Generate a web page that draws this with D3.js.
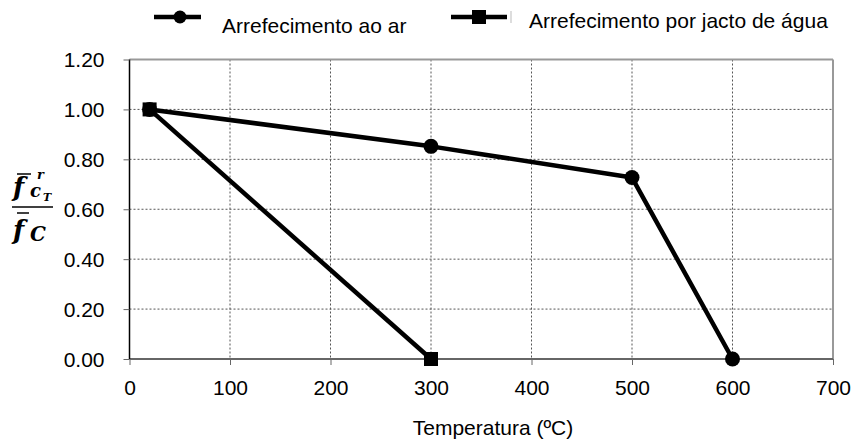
<!DOCTYPE html>
<html>
<head>
<meta charset="utf-8">
<script src="https://cdn.jsdelivr.net/npm/d3@7"></script>
<style>
  body { margin: 0; background: #fff; }
  svg { font-family: "Liberation Sans", Arial, sans-serif; }
</style>
</head>
<body>
<svg id="chart" width="855" height="444"></svg>
<script>
// data
var temps_air = [20, 300, 500, 600];
var vals_air = [1.00, 0.852, 0.727, 0.00];
var temps_water = [20, 300];
var vals_water = [1.00, 0.00];
var x_ticks = [0, 100, 200, 300, 400, 500, 600, 700];
var y_ticks = [0, 0.2, 0.4, 0.6, 0.8, 1.0, 1.2];
var series_names = ["Arrefecimento ao ar", "Arrefecimento por jacto de água"];

var svg = d3.select("#chart");
var pLeft = 129.5, pRight = 833, pTop = 59.5, pBottom = 359;
var fs = 21;

var x = d3.scaleLinear().domain([0, 700]).range([pLeft, pRight]);
var y = d3.scaleLinear().domain([0, 1.2]).range([pBottom, pTop]);

// gridlines
svg.selectAll(".vgrid")
    .data(x_ticks.slice(1, -1))
  .enter().append("line")
    .attr("x1", function(d) { return x(d); })
    .attr("x2", function(d) { return x(d); })
    .attr("y1", pTop)
    .attr("y2", pBottom)
    .style("stroke", "#555")
    .style("stroke-width", 1)
    .style("stroke-dasharray", "2,2");

svg.selectAll(".hgrid")
    .data(y_ticks.slice(1, -1))
  .enter().append("line")
    .attr("x1", pLeft)
    .attr("x2", pRight)
    .attr("y1", function(d) { return y(d); })
    .attr("y2", function(d) { return y(d); })
    .style("stroke", "#555")
    .style("stroke-width", 1)
    .style("stroke-dasharray", "2,2");

// plot border top / right (grey)
svg.append("line").attr("x1", pLeft).attr("x2", pRight).attr("y1", pTop).attr("y2", pTop)
    .style("stroke", "#999").style("stroke-width", 2);
svg.append("line").attr("x1", pRight).attr("x2", pRight).attr("y1", pTop).attr("y2", pBottom)
    .style("stroke", "#999").style("stroke-width", 2);

// axes
var xAxis = d3.axisBottom(x).tickValues(x_ticks).tickSize(6).tickFormat(d3.format("d"));
var yAxis = d3.axisLeft(y).tickValues(y_ticks).tickSize(6).tickFormat(d3.format(".2f"));

var gx = svg.append("g").attr("transform", "translate(0," + pBottom + ")").call(xAxis);
var gy = svg.append("g").attr("transform", "translate(" + pLeft + ",0)").call(yAxis);

gx.select(".domain").attr("d", "M" + pLeft + ",0H" + pRight).style("stroke", "#666").style("stroke-width", 2);
gy.select(".domain").attr("d", "M0," + pTop + "V" + pBottom).style("stroke", "#000").style("stroke-width", 1.5);
gx.selectAll(".tick line").style("stroke", "#666");
gy.selectAll(".tick line").style("stroke", "#666");
gx.selectAll(".tick text")
    .attr("dy", 0).attr("y", 36)
    .style("font-size", fs + "px").style("fill", "#000")
    .style("font-family", "Liberation Sans, Arial, sans-serif");
gy.selectAll(".tick text")
    .attr("x", -25).attr("dy", "0.35em")
    .style("font-size", fs + "px").style("fill", "#000")
    .style("font-family", "Liberation Sans, Arial, sans-serif");

// axis title
svg.append("text")
    .attr("x", 493)
    .attr("y", 435)
    .attr("text-anchor", "middle")
    .style("font-size", fs + "px")
    .text("Temperatura (ºC)");

// y label as a fraction
var lab = svg.append("g");
function labText(px, py, size, s) {
  lab.append("text").attr("x", px).attr("y", py)
      .style("font-family", "DejaVu Serif, Liberation Serif, serif")
      .style("font-weight", "bold")
      .style("font-style", "italic")
      .style("font-size", size + "px")
      .text(s);
}
function labBar(x1, x2, yy) {
  lab.append("line").attr("x1", x1).attr("x2", x2).attr("y1", yy).attr("y2", yy)
      .style("stroke", "#000").style("stroke-width", 1.5);
}
labText(13, 196, 26, "f");
labBar(17, 31, 174);
labText(37, 179, 13, "r");
labText(30, 197, 18, "c");
labText(43, 201, 11, "T");
labBar(12, 53, 207);
labText(13, 239, 26, "f");
labBar(17, 29, 213);
labText(30, 241, 20, "C");

// series lines
var line = d3.line()
    .x(function(d) { return x(d[0]); })
    .y(function(d) { return y(d[1]); });

var air = d3.zip(temps_air, vals_air);
var water = d3.zip(temps_water, vals_water);

svg.append("path").datum(air).attr("d", line)
    .style("fill", "none").style("stroke", "#000").style("stroke-width", 4.5)
    .style("stroke-linejoin", "round");
svg.append("path").datum(water).attr("d", line)
    .style("fill", "none").style("stroke", "#000").style("stroke-width", 4.5)
    .style("stroke-linejoin", "round");

svg.selectAll(".pt-air")
    .data(air)
  .enter().append("circle")
    .attr("cx", function(d) { return x(d[0]); })
    .attr("cy", function(d) { return y(d[1]); })
    .attr("r", 7.5)
    .style("fill", "#000");

svg.selectAll(".pt-water")
    .data(water)
  .enter().append("rect")
    .attr("x", function(d) { return x(d[0]) - 7; })
    .attr("y", function(d) { return y(d[1]) - 7; })
    .attr("width", 14)
    .attr("height", 14)
    .style("fill", "#000");

// legend
var leg = svg.append("g");
leg.append("line").attr("x1", 154).attr("x2", 201).attr("y1", 17).attr("y2", 17)
    .style("stroke", "#000").style("stroke-width", 4.5);
leg.append("circle").attr("cx", 180).attr("cy", 17).attr("r", 6.5).style("fill", "#000");
leg.append("text").attr("x", 222).attr("y", 33).style("font-size", fs + "px").text(series_names[0]);

leg.append("line").attr("x1", 451).attr("x2", 507).attr("y1", 17).attr("y2", 17)
    .style("stroke", "#000").style("stroke-width", 4.5);
leg.append("rect").attr("x", 472).attr("y", 10).attr("width", 14).attr("height", 14).style("fill", "#000");
leg.append("line").attr("x1", 511).attr("x2", 511).attr("y1", 11).attr("y2", 23)
    .style("stroke", "#bbb").style("stroke-width", 1);
leg.append("text").attr("x", 529).attr("y", 28).style("font-size", fs + "px").text(series_names[1]);
</script>
</body>
</html>
